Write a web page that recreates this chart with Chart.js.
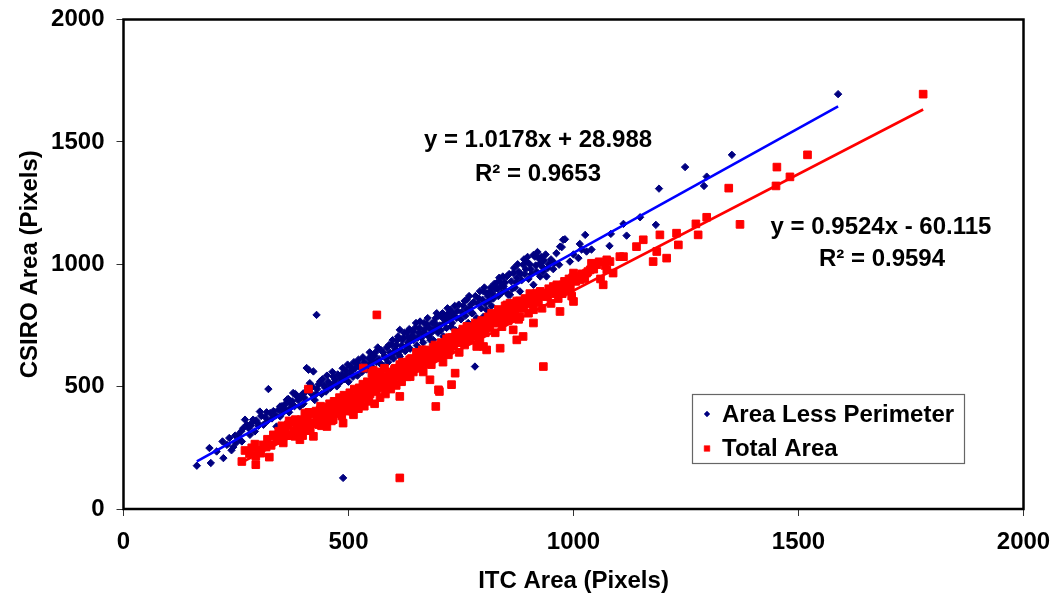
<!DOCTYPE html>
<html><head><meta charset="utf-8">
<script src="https://cdn.jsdelivr.net/npm/chart.js@4.4.1/dist/chart.umd.min.js"></script>
<style>html,body{margin:0;padding:0;background:#fff;} canvas{display:block;}</style>
</head><body>
<canvas id="c" width="1052" height="600"></canvas>
<script>
const seriesNames = ['Area Less Perimeter', 'Total Area'];
const axisTitles = ['ITC Area (Pixels)', 'CSIRO Area (Pixels)'];
const axisTicks = [0, 500, 1000, 1500, 2000];
const axisTickLabels = ['0', '500', '1000', '1500', '2000'];

// [ITC area, CSIRO area]
const areaLessPerimeter = [
[163,177],[194,188],[191,249],[207,235],[222,208],[220,276],[230,262],[235,290],[240,240],[244,253],[248,300],[250,270],[255,303],[258,285],[262,318],[263,276],[266,330],[270,365],[274,344],[278,330],[281,303],[283,340],[285,351],[288,365],[292,317],[295,362],[298,352],[300,340],[303,398],[306,380],[311,344],[315,375],[318,395],[320,360],[322,490],[326,392],[330,370],[333,400],[338,382],[340,337],[344,405],[348,378],[348,419],[352,420],[355,395],[358,410],[360,430],[363,446],[366,450],[368,395],[370,412],[372,430],[375,440],[377,474],[380,420],[382,470],[385,460],[388,445],[392,419],[395,455],[398,470],[400,430],[402,455],[405,480],[407,576],[410,495],[411,569],[414,514],[418,470],[420,500],[422,562],[425,445],[428,470],[429,793],[430,490],[434,510],[437,521],[440,470],[442,530],[445,505],[448,495],[450,480],[452,545],[455,520],[458,510],[460,495],[464,560],[466,541],[468,515],[470,530],[474,501],[476,550],[480,515],[482,535],[485,550],[487,575],[488,127],[490,530],[493,548],[495,565],[498,590],[500,520],[503,582],[505,555],[508,565],[510,540],[512,600],[515,575],[518,596],[520,545],[522,610],[525,585],[528,575],[530,560],[532,620],[535,600],[538,590],[540,570],
[545,615],[547,640],[548,590],[552,628],[553,605],[555,575],[558,625],[560,640],[562,600],[565,660],[568,612],[570,595],[572,650],[575,588],[577,640],[580,625],[583,615],[585,660],[588,600],[590,670],[592,640],[594,625],[596,672],[598,690],[600,615],[602,640],[604,655],[606,670],[608,690],[610,705],[612,630],[614,623],[614,732],[616,650],[618,668],[620,690],[622,700],[624,720],[626,645],[628,665],[630,720],[632,700],[633,680],[635,735],[637,655],[639,690],[641,710],[643,725],[645,690],[647,700],[648,740],[650,760],[652,668],[654,700],[656,720],[658,740],[659,766],[662,700],[664,720],[666,680],[668,760],[670,735],[672,715],[674,755],[676,780],[678,705],[680,740],[682,690],[684,720],[686,760],[688,691],[690,735],[692,760],[694,780],[696,800],[697,745],[699,720],[701,790],[703,750],[705,730],[707,785],[709,800],[711,705],[713,760],[715,770],[717,790],[718,740],[720,820],[722,800],[724,780],[726,814],[728,745],[730,760],[732,800],[734,790],[736,830],[738,730],[740,780],[742,810],[745,835],[748,732],[750,775],[752,805],[755,830],[758,850],[760,790],[763,855],[764,815],[766,760],[768,870],[770,820],[772,835],[774,800],[776,800],[778,845],[781,582],[782,870],[785,780],[787,840],[790,860],[792,890],[795,820],[798,855],[800,889],[800,786],[802,905],[804,840],[807,814],[808,880],[810,870],[812,850],[814,889],[816,905],[818,830],[820,880],
[822,860],[824,920],[826,900],[829,923],[831,900],[833,870],[835,945],[837,930],[839,910],[841,885],[843,950],[845,910],[848,925],[850,890],[852,950],[855,875],[857,960],[859,875],[862,930],[864,900],[866,964],[868,985],[870,905],[872,925],[874,945],[876,1000],[878,970],[881,889],[883,960],[885,935],[888,998],[890,1020],[892,960],[894,980],[896,1011],[898,1030],[900,940],[903,1000],[905,980],[907,960],[911,916],[911,1038],[914,1031],[916,995],[918,970],[920,1050],[922,1025],[926,1004],[926,950],[928,1030],[930,990],[933,970],[935,1015],[938,1040],[940,950],[943,985],[945,1000],[950,1020],[955,980],[958,1005],[962,1045],[968,998],[970,1072],[974,1070],[977,1100],[981,1102],[992,1011],[1000,1040],[1011,1025],[1014,1083],[1018,1060],[1026,1120],[1029,1052],[1040,1060],[1080,1075],[1083,1124],[1111,1165],[1118,1117],[1148,1192],[1183,1161],[1190,1309],[1248,1397],[1290,1320],[1296,1358],[1352,1447],[1588,1695]
];

const totalArea = [
[263,194],[270,239],[280,225],[285,250],[292,265],[294,181],[294,215],[300,240],[305,228],[310,262],[317,253],[320,285],[324,212],[328,260],[333,303],[336,300],[340,280],[345,318],[348,290],[352,340],[355,303],[355,270],[360,320],[362,300],[366,344],[368,360],[370,300],[375,355],[378,320],[381,297],[382,365],[385,330],[388,345],[390,310],[392,283],[395,365],[398,300],[400,337],[402,360],[403,392],[405,345],[408,330],[410,375],[411,490],[412,395],[415,320],[418,350],[420,390],[422,297],[425,350],[428,400],[429,365],[432,380],[434,345],[437,405],[438,420],[440,340],[443,375],[445,400],[448,365],[450,395],[452,337],[455,415],[458,430],[459,378],[462,360],[464,385],[466,365],[468,440],[470,420],[472,405],[475,390],[478,440],[480,455],[481,405],[484,420],[485,380],[488,351],[490,465],[492,430],[494,400],[496,460],[498,440],[500,410],[503,475],[505,450],[508,400],[510,425],[511,385],[513,490],[515,440],[518,450],[520,470],[522,410],[524,495],[526,433],[528,470],[530,455],[532,510],[533,576],[535,420],[537,460],[538,500],[540,487],[542,520],[545,440],[548,470],[550,490],[552,555],[554,530],[555,566],[555,510],[558,430],[560,505],[562,480],[563,793],[614,127],
[564,550],[566,530],[568,500],[570,455],[572,560],[574,500],[576,520],[578,540],[580,575],[582,470],[584,540],[586,520],[588,500],[590,555],[592,560],[594,490],[596,550],[598,535],[600,520],[602,570],[604,575],[606,505],[608,560],[610,548],[612,575],[614,460],[614,590],[616,545],[618,520],[620,600],[622,565],[624,575],[626,600],[628,590],[630,540],[632,560],[634,580],[636,610],[637,541],[640,615],[642,590],[644,560],[646,605],[648,600],[650,600],[651,640],[653,630],[655,575],[657,620],[659,596],[661,580],[662,625],[664,650],[666,560],[668,615],[670,650],[672,640],[674,600],[676,640],[678,635],[680,600],[681,528],[682,645],[684,590],[686,630],[688,660],[690,620],[692,670],[694,419],[696,645],[698,620],[700,487],[701,665],[702,480],[703,623],[705,655],[706,680],[708,670],[710,600],[712,640],[714,660],[716,680],[718,695],[720,670],[722,630],[724,700],[726,650],[728,680],[729,508],[730,700],[733,700],[734,665],[736,690],[737,555],[738,720],[740,705],[742,680],[744,710],[746,640],[748,680],[750,705],[752,715],[754,735],[756,720],[758,670],[760,700],[763,691],[763,746],[765,730],[766,715],[768,735],[770,690],[772,710],[774,740],[776,740],[778,705],[780,730],[782,760],[784,745],[785,664],[788,725],[790,750],[792,690],[794,720],[796,770],[798,755],[800,746],[800,664],[802,760],[804,720],[806,765],[807,650],[807,760],[810,785],[812,770],[814,740],[816,775],[820,780],
[818,800],[822,760],[824,790],[826,720],[828,790],[830,790],[832,760],[833,815],[835,800],[837,657],[837,773],[840,800],[841,745],[843,780],[845,800],[847,810],[848,830],[850,815],[852,834],[855,770],[857,800],[859,827],[859,841],[862,790],[864,820],[866,732],[868,780],[870,810],[872,830],[874,691],[874,850],[876,820],[878,775],[880,850],[881,786],[884,845],[885,830],[888,705],[890,820],[892,860],[894,850],[896,855],[898,840],[900,800],[903,880],[905,840],[908,860],[911,760],[911,814],[913,850],[915,870],[918,882],[920,865],[922,845],[924,870],[926,889],[928,870],[930,820],[933,582],[935,880],[938,880],[940,868],[943,870],[945,900],[948,895],[950,840],[952,895],[955,909],[958,900],[960,880],[963,916],[965,905],[966,860],[970,807],[972,910],[975,880],[977,916],[980,930],[981,890],[985,909],[988,925],[990,940],[993,900],[996,870],[998,945],[1000,964],[1000,848],[1003,945],[1005,930],[1010,950],[1014,936],[1018,960],[1020,960],[1025,940],[1029,964],[1032,970],[1037,977],[1040,1004],[1045,980],[1052,998],[1057,1010],[1060,940],[1066,916],[1070,995],[1074,977],[1074,1018],[1081,1011],[1088,964],[1103,1031],[1111,1031],[1140,1072],[1155,1100],[1177,1011],[1185,1052],[1192,1120],[1207,1025],[1229,1127],[1233,1079],[1272,1165],[1277,1120],[1296,1192],[1345,1311],[1370,1163],[1450,1320],[1452,1397],[1481,1357],[1520,1447],[1777,1695]
];

// linear trendlines as printed on the chart: [slope, intercept]
const fitLessPerimeter = [1.0178, 28.988];
const fitTotal = [0.9524, -60.115];
const fitTextLessPerimeter = ['y = 1.0178x + 28.988', 'R\u00B2 = 0.9653'];
const fitTextTotal = ['y = 0.9524x - 60.115', 'R\u00B2 = 0.9594'];

const FONT = '"Liberation Sans", Arial, Helvetica, sans-serif';
const toXY = pts => pts.map(p => ({x: p[0], y: p[1]}));
function fitLine(pts, coef) {
  const xs = pts.map(p => p[0]);
  const a = Math.min(...xs), b = Math.max(...xs);
  return [{x: a, y: coef[0] * a + coef[1]}, {x: b, y: coef[0] * b + coef[1]}];
}

const overlay = {
  id: 'overlay',
  afterDraw(chart) {
    const ctx = chart.ctx, ca = chart.chartArea;
    ctx.save();
    ctx.strokeStyle = '#000'; ctx.lineWidth = 2.5;
    ctx.strokeRect(ca.left, ca.top, ca.right - ca.left, ca.bottom - ca.top);
    ctx.fillStyle = '#000';
    ctx.font = 'bold 24px ' + FONT;
    ctx.textAlign = 'center'; ctx.textBaseline = 'alphabetic';
    ctx.fillText(fitTextLessPerimeter[0], 538, 147);
    ctx.fillText(fitTextLessPerimeter[1], 538, 181);
    ctx.fillText(fitTextTotal[0], 881, 234);
    ctx.fillText(fitTextTotal[1], 882, 266);
    const lx = 692.5, ly = 394.5, lw = 272, lh = 69;
    ctx.fillStyle = '#fff'; ctx.fillRect(lx, ly, lw, lh);
    ctx.strokeStyle = '#666'; ctx.lineWidth = 1.2; ctx.strokeRect(lx, ly, lw, lh);
    const ds = chart.data.datasets;
    ctx.textAlign = 'left';
    const rows = [[ds[0], 'rectRot', 2.9, 414, 422], [ds[1], 'rect', 4, 448.5, 456]];
    rows.forEach(r => {
      const d = r[0];
      ctx.fillStyle = d.backgroundColor; ctx.strokeStyle = d.borderColor; ctx.lineWidth = 0.5;
      Chart.helpers.drawPoint(ctx, {pointStyle: r[1], radius: r[2], borderWidth: 0.5, rotation: 0}, 707, r[3]);
      ctx.fillStyle = '#000';
      ctx.font = 'bold 24px ' + FONT;
      ctx.fillText(d.label, 722, r[4]);
    });
    ctx.restore();
  }
};

const axisCommon = (titleText, titlePad) => ({
  type: 'linear', min: 0, max: 2000,
  afterBuildTicks: s => { s.ticks = axisTicks.map(v => ({value: v})); },
  grid: {display: true, drawOnChartArea: false, drawTicks: true, tickLength: 7, color: '#333', lineWidth: 1},
  border: {display: false},
  ticks: {color: '#000', font: {family: FONT, size: 24, weight: 'bold'}, padding: 12, maxRotation: 0, autoSkip: false,
          callback: (v) => axisTickLabels[axisTicks.indexOf(v)]},
  title: {display: true, text: titleText, color: '#000', font: {family: FONT, size: 24, weight: 'bold', lineHeight: 1.2}, padding: titlePad}
});

const xAxis = axisCommon(axisTitles[0], {top: 0, bottom: 4});
xAxis.afterFit = s => { s.height = 91; s.paddingLeft = 0; s.paddingRight = 28.5; };
const yAxis = axisCommon(axisTitles[1], {top: 16, bottom: 0});
yAxis.afterFit = s => { s.width = 123.5; s.paddingTop = 19.5; s.paddingBottom = 0; };

new Chart(document.getElementById('c'), {
  type: 'scatter',
  data: {
    datasets: [
      {label: seriesNames[0], data: toXY(areaLessPerimeter), pointStyle: 'rectRot', pointRadius: 3.7, borderWidth: 1,
       backgroundColor: '#000080', borderColor: '#000080', order: 3},
      {label: seriesNames[1], data: toXY(totalArea), pointStyle: 'rect', pointRadius: 5.4, borderWidth: 1,
       backgroundColor: '#FF0000', borderColor: '#FF0000', order: 2},
      {label: 'fit total', type: 'line', data: fitLine(totalArea, fitTotal), borderColor: '#FF0000', borderWidth: 2.6,
       pointRadius: 0, fill: false, order: 1},
      {label: 'fit less', type: 'line', data: fitLine(areaLessPerimeter, fitLessPerimeter), borderColor: '#0000FF', borderWidth: 2.6,
       pointRadius: 0, fill: false, order: 0}
    ]
  },
  options: {
    responsive: false, animation: false, devicePixelRatio: 1, events: [],
    layout: {padding: 0},
    plugins: {legend: {display: false}, tooltip: {enabled: false}},
    scales: {x: xAxis, y: yAxis}
  },
  plugins: [overlay]
});
</script>
</body></html>
